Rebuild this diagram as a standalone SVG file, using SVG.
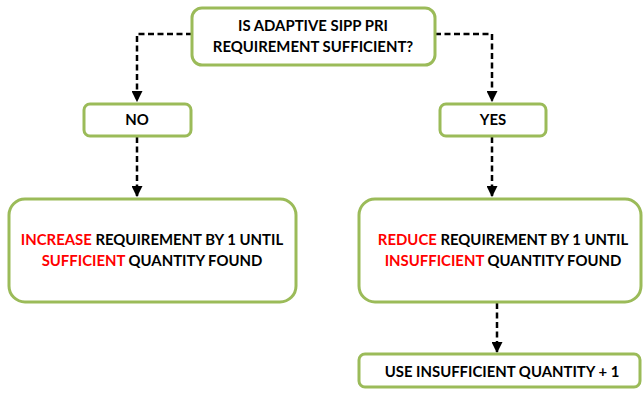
<svg xmlns="http://www.w3.org/2000/svg" width="643" height="393" viewBox="0 0 643 393">
<defs>
<style>
.box{fill:#fff;stroke:#9BBB59;stroke-width:3}
.t{font-family:Lato,"Liberation Sans",sans-serif;font-weight:bold;font-size:14.9px;fill:#000;text-anchor:middle}
.r{fill:#FF0000}
.c{fill:none;stroke:#000;stroke-width:2.5;stroke-dasharray:6,3.5}
</style>
<marker id="ah" viewBox="0 0 10 10" refX="9" refY="5" markerWidth="4.4" markerHeight="4.4" orient="auto" markerUnits="strokeWidth"><path d="M0,0 L10,5 L0,10 z" fill="#000"/></marker>
</defs>
<rect width="643" height="393" fill="#fff"/>
<g id="connectors">
<path class="c" d="M192,34 H137 V101" marker-end="url(#ah)"/>
<path class="c" d="M435,34 H492 V101" marker-end="url(#ah)"/>
<path class="c" d="M137,137 V196" marker-end="url(#ah)"/>
<path class="c" d="M492,137 V196" marker-end="url(#ah)"/>
<path class="c" d="M497,303 V352" marker-end="url(#ah)"/>
</g>
<g id="question">
<rect class="box" x="192" y="8" width="243" height="57" rx="10"/>
<text class="t" x="313" y="31">IS ADAPTIVE SIPP PRI</text>
<text class="t" x="313" y="52">REQUIREMENT SUFFICIENT?</text>
</g>
<g id="no">
<rect class="box" x="84" y="104" width="107" height="32" rx="6"/>
<text class="t" x="137" y="125">NO</text>
</g>
<g id="yes">
<rect class="box" x="440" y="104" width="106" height="32" rx="6"/>
<text class="t" x="493" y="125">YES</text>
</g>
<g id="increase">
<rect class="box" x="9" y="199" width="287" height="103" rx="16"/>
<text class="t" x="152" y="245"><tspan class="r">INCREASE</tspan> REQUIREMENT BY 1 UNTIL</text>
<text class="t" x="152" y="266"><tspan class="r">SUFFICIENT</tspan> QUANTITY FOUND</text>
</g>
<g id="reduce">
<rect class="box" x="359" y="199" width="282" height="103" rx="16"/>
<text class="t" x="503" y="245"><tspan class="r">REDUCE</tspan> REQUIREMENT BY 1 UNTIL</text>
<text class="t" x="503" y="266"><tspan class="r">INSUFFICIENT</tspan> QUANTITY FOUND</text>
</g>
<g id="use">
<rect class="box" x="359" y="354" width="281" height="33" rx="6"/>
<text class="t" x="502" y="377">USE INSUFFICIENT QUANTITY + 1</text>
</g>
</svg>
